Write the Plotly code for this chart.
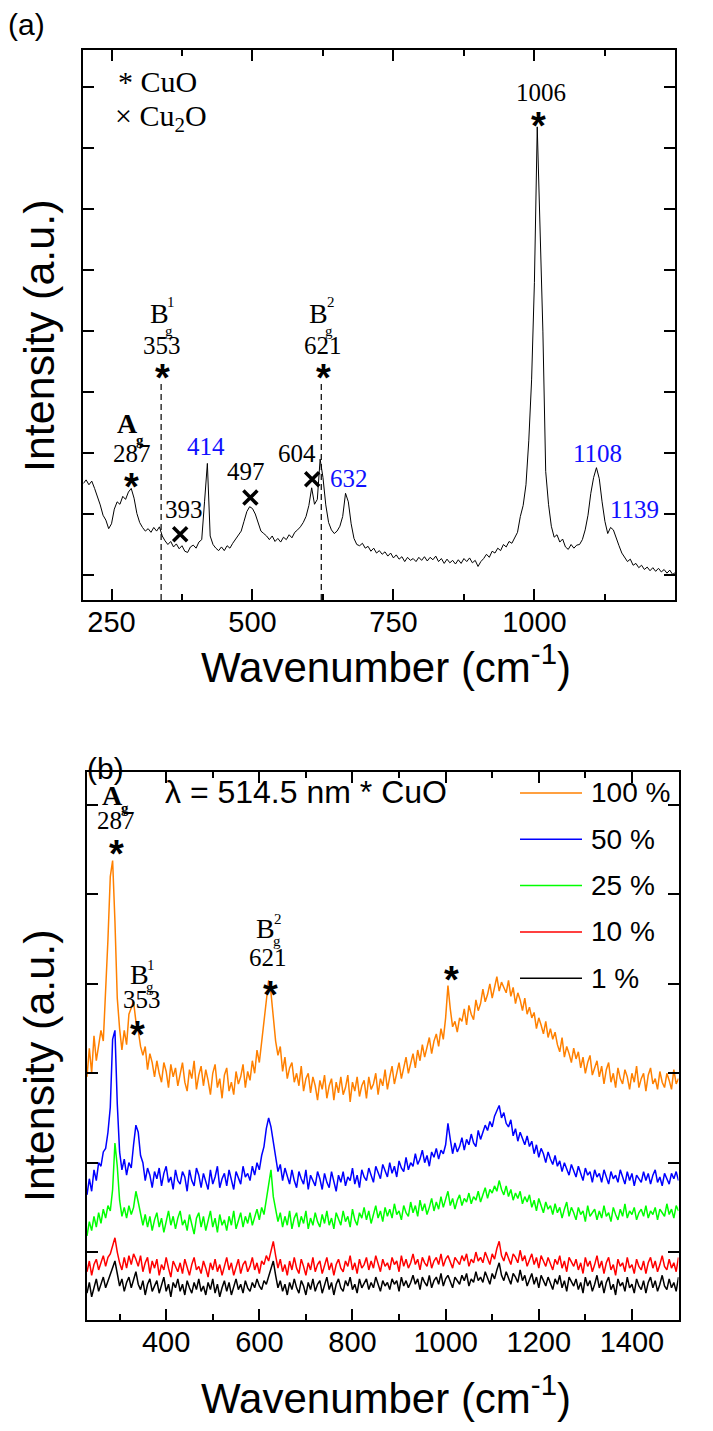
import plotly.graph_objects as go

# page has an 8 px body margin: figure is sized so it fits the 713x1431 window exactly
OFF = 8
FW, FH = 713 - 2 * OFF, 1431 - 2 * OFF


def PX(px):
    return (px - OFF) / FW


def PY(py):
    return 1 - (py - OFF) / FH


# ---------------- panel (a) : Raman spectrum, 5 cm-1 steps from 200 cm-1 ----------------
int_a = [
    15.0, 15.6, 14.8, 15.4, 14.2, 13.0, 11.5, 9.8, 9.0, 7.6,
    8.4, 10.8, 12.0, 11.6, 12.9, 12.4, 13.6, 14.2, 12.6, 10.1,
    8.6, 7.8, 7.2, 7.6, 7.0, 7.8, 7.2, 7.9, 6.4, 5.6,
    5.0, 5.5, 4.6, 5.1, 4.3, 4.8, 3.9, 3.7, 4.6, 4.9,
    4.4, 5.4, 5.8, 12.0, 18.3, 6.4, 5.0, 4.4, 4.0, 4.6,
    4.0, 4.8, 4.4, 5.2, 5.9, 6.6, 7.2, 8.8, 10.4, 11.2,
    10.9, 10.0, 8.4, 7.2, 6.8, 6.4, 5.8, 6.4, 5.5, 6.0,
    5.4, 6.2, 5.8, 6.6, 6.1, 7.0, 7.4, 7.9, 8.6, 9.6,
    11.4, 14.3, 11.6, 12.4, 19.0, 16.0, 11.5, 8.6, 7.4, 6.8,
    7.2, 8.0, 9.6, 13.4, 12.0, 8.4, 6.0, 5.0, 4.8, 5.2,
    4.4, 4.7, 3.9, 4.4, 3.6, 4.0, 3.4, 3.8, 3.1, 3.6,
    2.8, 3.3, 2.6, 3.0, 2.2, 2.9, 2.4, 2.7, 2.2, 2.9,
    2.4, 3.0, 2.3, 2.9, 2.5, 3.1, 2.2, 2.7, 1.9, 2.6,
    2.0, 2.4, 1.8, 2.5, 1.9, 2.7, 2.2, 2.8, 2.0, 2.4,
    1.4, 2.2, 2.7, 3.4, 2.9, 3.9, 3.6, 4.4, 4.0, 5.0,
    4.6, 5.5, 5.2, 6.0, 7.0, 9.6, 11.4, 14.8, 22.0, 32.0,
    48.0, 73.5, 56.0, 40.0, 17.0, 11.6, 8.0, 6.2, 6.6, 5.4,
    5.9, 4.6, 4.2, 5.0, 4.4, 4.9, 5.0, 5.8, 7.4, 9.8,
    13.4, 16.0, 17.6, 15.8, 12.0, 8.8, 6.8, 7.8, 7.4, 6.0,
    4.8, 3.6, 3.0, 2.2, 2.6, 1.6, 1.9, 1.2, 1.6, 0.9,
    1.3, 0.7, 1.2, 0.6, 1.1, 0.5, 0.9, 0.3, 0.8, 0.1,
    0.4,
]
wn_a = [200 + 5 * i for i in range(len(int_a))]

# ---------------- panel (b) : five laser powers, 5 cm-1 steps from 230 cm-1 ----------------
p100 = [
    196, 228, 200, 242, 214, 230, 248, 236, 290, 350,
    420, 438, 370, 284, 250, 226, 248, 232, 266, 274,
    280, 258, 248, 230, 220, 230, 204, 222, 212, 196,
    214, 200, 190, 212, 202, 184, 210, 196, 206, 186,
    200, 212, 190, 180, 204, 194, 214, 182, 198, 208,
    186, 204, 192, 176, 200, 210, 184, 194, 172, 198,
    206, 180, 190, 176, 202, 188, 196, 210, 184, 202,
    192, 214, 200, 226, 212, 236, 258, 284, 304, 290,
    262, 236, 220, 230, 202, 218, 194, 206, 212, 190,
    200, 186, 208, 180, 194, 200, 178, 196, 186, 170,
    192, 182, 198, 172, 186, 194, 170, 190, 178, 196,
    176, 184, 198, 168, 190, 180, 196, 174, 186, 192,
    172, 196, 182, 188, 200, 176, 194, 186, 204, 182,
    196, 208, 188, 200, 212, 194, 206, 218, 200, 212,
    222, 206, 226, 214, 232, 218, 228, 240, 222, 236,
    244, 230, 250, 238, 262, 298, 272, 252, 258, 246,
    262, 258, 272, 254, 276, 266, 260, 282, 270, 278,
    294, 280, 288, 300, 284, 296, 308, 292, 302, 296,
    290, 304, 286, 296, 278, 290, 282, 270, 284, 266,
    274, 262, 268, 250, 262, 254, 244, 258, 240, 250,
    238, 246, 232, 224, 240, 218, 230, 222, 212, 228,
    216, 224, 206, 218, 200, 212, 220, 198, 206, 214,
    196, 208, 188, 204, 212, 190, 200, 184, 206, 194,
    188, 204, 196, 182, 200, 190, 208, 184, 194, 200,
    180, 198, 206, 188, 194, 182, 202, 190, 184, 200,
    192, 182, 204, 188, 194,
]
p50 = [
    64, 82, 68, 92, 80, 100, 96, 112, 116, 134,
    162, 238, 248, 166, 112, 92, 104, 86, 100, 94,
    120, 142, 134, 108, 100, 80, 94, 86, 72, 90,
    82, 94, 74, 88, 96, 78, 84, 70, 92, 80,
    76, 90, 84, 68, 92, 80, 74, 94, 86, 72,
    88, 80, 70, 92, 76, 84, 96, 72, 82, 88,
    74, 92, 80, 70, 90, 84, 76, 96, 84, 88,
    80, 96, 86, 100, 92, 108, 118, 138, 150, 140,
    122, 106, 90, 98, 80, 94, 84, 76, 92, 80,
    72, 90, 82, 76, 92, 70, 86, 80, 74, 90,
    82, 70, 88, 78, 72, 90, 80, 68, 86, 78,
    90, 74, 84, 80, 94, 76, 86, 72, 92, 84,
    80, 94, 86, 78, 96, 88, 82, 98, 90, 84,
    100, 88, 96, 84, 102, 94, 90, 106, 92, 100,
    96, 110, 98, 104, 114, 100, 108, 96, 112, 106,
    116, 104, 114, 110, 120, 144, 126, 110, 122, 112,
    118, 128, 114, 126, 120, 132, 122, 118, 136, 126,
    134, 142, 136, 146, 140, 152, 158, 164, 150, 156,
    144, 140, 148, 130, 138, 124, 134, 126, 120, 130,
    118, 124, 110, 120, 106, 116, 110, 100, 112, 104,
    98, 108, 96, 102, 90, 100, 94, 86, 98, 90,
    84, 96, 88, 80, 94, 86, 90, 78, 92, 84,
    88, 78, 92, 84, 76, 90, 82, 86, 78, 92,
    84, 76, 90, 80, 88, 74, 86, 82, 78, 90,
    80, 88, 76, 86, 92, 78, 84, 74, 88, 82,
    76, 88, 82, 90, 80,
]
p25 = [
    18, 34, 24, 40, 28, 44, 32, 48, 38, 52,
    46, 70, 122, 96, 58, 40, 50, 38, 52, 42,
    50, 68, 56, 44, 30, 42, 28, 40, 24, 36,
    44, 28, 38, 22, 36, 46, 30, 40, 26, 38,
    46, 30, 36, 24, 42, 32, 20, 38, 44, 28,
    40, 24, 34, 46, 28, 38, 22, 42, 30, 36,
    24, 40, 30, 46, 26, 36, 44, 28, 40, 32,
    44, 30, 40, 48, 36, 50, 42, 58, 76, 92,
    62, 46, 34, 44, 28, 40, 30, 46, 26, 38,
    44, 28, 40, 32, 46, 26, 38, 30, 44, 34,
    28, 42, 32, 46, 30, 38, 26, 44, 36, 30,
    46, 34, 40, 28, 48, 36, 30, 44, 38, 50,
    36, 46, 32, 44, 52, 38, 46, 34, 50, 40,
    48, 38, 54, 42, 46, 36, 52, 44, 40, 56,
    44, 52, 40, 58, 46, 54, 42, 50, 60, 46,
    56, 48, 62, 50, 58, 68, 52, 60, 48, 58,
    64, 52, 60, 56, 66, 54, 62, 58, 68, 56,
    64, 72, 60, 70, 66, 74, 68, 80, 70, 64,
    74, 62, 70, 58, 66, 60, 68, 54, 62, 56,
    64, 50, 58, 46, 60, 52, 44, 56, 48, 52,
    42, 54, 44, 50, 38, 48, 56, 40, 50, 44,
    36, 50, 42, 46, 34, 52, 40, 44, 48, 36,
    46, 38, 52, 40, 44, 34, 50, 42, 36, 48,
    40, 54, 38, 46, 42, 50, 36, 44, 48, 40,
    52, 38, 46, 42, 50, 36, 48, 44, 40, 54,
    42, 48, 38, 52, 46,
]
p10 = [
    -22, -10, -26, -14, -8, -20, -12, -4, -16, -6,
    -2, 6, 16, 0, -12, -20, -6, -18, -4, -14,
    -2, -8, -16, -4, -22, -12, -6, -24, -10, -18,
    -8, -26, -14, -20, -6, -18, -28, -10, -16, -22,
    -12, -24, -8, -18, -26, -14, -6, -20, -16, -24,
    -10, -18, -28, -12, -20, -8, -22, -14, -26, -16,
    -6, -20, -12, -26, -18, -8, -24, -14, -10, -22,
    -16, -6, -20, -12, -24, -10, -14, -4, -10, 2,
    12, -4, -18, -8, -22, -14, -26, -10, -20, -6,
    -18, -24, -8, -16, -26, -12, -20, -6, -22, -14,
    -10, -24, -16, -6, -20, -12, -26, -14, -8, -18,
    -22, -10, -16, -4, -20, -12, -24, -8, -18, -14,
    -6, -20, -10, -18, -4, -14, -22, -8, -16, -12,
    -20, -6, -14, -10, -22, -4, -16, -8, -18, -12,
    -2, -14, -8, -20, -6, -12, -16, -4, -18, -10,
    -6, -14, -2, -16, -8, -4, -12, -18, -6, -10,
    -14, -4, -10, -2, -16, -8, -12, 0, -10, -6,
    -12, 0, -6, -14, -2, -8, 4, 12, -4, -10,
    0, -8, -14, -2, -6, -12, 2, -10, -4, -16,
    -8, -2, -14, -6, -18, -4, -10, -16, -6, -12,
    -20, -8, -14, -4, -18, -10, -22, -6, -12, -16,
    -8, -20, -12, -24, -6, -16, -10, -22, -14, -4,
    -18, -10, -24, -12, -6, -20, -14, -26, -8, -16,
    -12, -22, -6, -18, -14, -24, -8, -16, -20, -10,
    -24, -12, -6, -18, -10, -22, -14, -4, -16, -20,
    -8, -18, -12, -22, -6,
]
p1 = [
    -46, -34, -50, -38, -30, -44, -36, -28, -40, -32,
    -26, -16, -10, -24, -38, -30, -44, -34, -28, -40,
    -30, -22, -36, -42, -32, -48, -36, -30, -44, -38,
    -32, -46, -38, -28, -44, -36, -50, -34, -40, -30,
    -44, -36, -48, -32, -40, -46, -34, -42, -30, -44,
    -38, -48, -34, -42, -30, -46, -36, -50, -40, -32,
    -44, -34, -48, -38, -30, -42, -36, -46, -32, -40,
    -44, -34, -40, -30, -38, -42, -32, -36, -28, -20,
    -10, -26, -40, -32, -44, -36, -48, -34, -42, -30,
    -40, -46, -32, -38, -48, -34, -42, -30, -44, -36,
    -32, -46, -38, -28, -42, -34, -48, -36, -30, -40,
    -44, -32, -38, -28, -42, -36, -46, -30, -40, -34,
    -30, -42, -34, -40, -28, -36, -44, -32, -38, -34,
    -42, -30, -36, -32, -44, -28, -38, -32, -40, -34,
    -26, -36, -30, -42, -28, -34, -38, -26, -40, -32,
    -28, -36, -24, -38, -30, -26, -34, -40, -28, -32,
    -36, -26, -32, -24, -38, -30, -34, -22, -32, -28,
    -34, -22, -28, -36, -24, -30, -20, -12, -26, -32,
    -22, -30, -36, -24, -28, -34, -20, -32, -26, -38,
    -30, -24, -36, -28, -40, -26, -32, -38, -28, -34,
    -42, -30, -36, -26, -40, -32, -44, -28, -34, -38,
    -30, -42, -34, -46, -28, -38, -32, -44, -36, -26,
    -40, -32, -46, -34, -28, -42, -36, -48, -30, -38,
    -34, -44, -28, -40, -36, -46, -30, -38, -42, -32,
    -46, -34, -28, -40, -32, -44, -36, -26, -38, -42,
    -30, -40, -34, -44, -28,
]
series_b = [("1 %", p1, "#000000"), ("10 %", p10, "#FF0000"), ("25 %", p25, "#00FF00"),
            ("50 %", p50, "#0000FF"), ("100 %", p100, "#FF8000")]
legend_order = ["100 %", "50 %", "25 %", "10 %", "1 %"]

# ---------------- annotation content ----------------
a_numbers = [  # (text, wavenumber, intensity, colour)
    ("287", 286.5, 20.0, "black"), ("353", 339.3, 37.7, "black"), ("621", 625.4, 37.7, "black"),
    ("393", 377.7, 10.7, "black"), ("497", 488.6, 16.9, "black"), ("604", 579.2, 20.0, "black"),
    ("1006", 1011.6, 79.2, "black"),
    ("414", 418.0, 21.0, "#1010FF"), ("632", 671.0, 15.9, "#1010FF"),
    ("1108", 1112.4, 20.0, "#1010FF"), ("1139", 1177.4, 10.8, "#1010FF"),
]
a_star_x = [286.0, 341.0, 626.5, 1008.0]
a_star_y = [16.1, 34.0, 34.0, 75.2]
a_cross_x = [371.8, 496.3, 605.9]
a_cross_y = [6.7, 12.7, 15.7]
a_dash_x = [338, 622]
a_dash_top = 32.0

b_numbers = [("287", 292.3, 483), ("353", 348.0, 282), ("621", 618.7, 329)]
b_star_x = [292.3, 337.4, 623.0, 1011.6]
b_star_y = [457, 254, 299, 315]

fig = go.Figure()

fig.add_trace(go.Scatter(x=wn_a, y=int_a, mode="lines", line=dict(color="black", width=1),
                         xaxis="x", yaxis="y", showlegend=False, hoverinfo="skip"))
fig.add_trace(go.Scatter(x=a_cross_x, y=a_cross_y, mode="markers",
                         marker=dict(symbol="x-thin-open", size=14, color="black",
                                     line=dict(width=3.5, color="black")),
                         xaxis="x", yaxis="y", showlegend=False))

for name, vals, col in series_b:
    fig.add_trace(go.Scatter(x=[230 + 5 * i for i in range(len(vals))], y=vals, mode="lines",
                             line=dict(color=col, width=1.5), name=name,
                             xaxis="x2", yaxis="y2", showlegend=False))

SERIF = "Liberation Serif"
SANS = "Liberation Sans"

ann = []


def A(**k):
    k.setdefault("showarrow", False)
    k.setdefault("xanchor", "center")
    k.setdefault("yanchor", "middle")
    ann.append(k)


# panel (a) texts
for t, x, y, c in a_numbers:
    A(text=t, x=x, y=y, xref="x", yref="y", font=dict(family=SERIF, size=25, color=c))
for x, y in zip(a_star_x, a_star_y):
    A(text="<b>*</b>", x=x, y=y, xref="x", yref="y", yshift=-10, font=dict(family=SANS, size=38, color="black"))
A(text="<b>A</b>", x=279, y=24.9, xref="x", yref="y", font=dict(family=SERIF, size=28, color="black"))
A(text="<b>g</b>", x=300.8, y=22.2, xref="x", yref="y", font=dict(family=SERIF, size=15, color="black"))
for bx, sup in ((334.5, "1"), (617.6, "2")):
    A(text="B", x=bx, y=42.9, xref="x", yref="y", font=dict(family=SERIF, size=28, color="black"))
    A(text=sup, x=bx + 20.8, y=44.8, xref="x", yref="y", font=dict(family=SERIF, size=15, color="black"))
    A(text="g", x=bx + 18.3, y=40.0, xref="x", yref="y", font=dict(family=SERIF, size=15, color="black"))
A(text="* CuO", x=PX(116), y=PY(82), xref="paper", yref="paper", xanchor="left",
  font=dict(family=SERIF, size=30, color="black"))
A(text="× Cu<sub>2</sub>O", x=PX(113), y=PY(118), xref="paper", yref="paper", xanchor="left",
  font=dict(family=SERIF, size=30, color="black"))

# panel (b) texts
for t, x, y in b_numbers:
    A(text=t, x=x, y=y, xref="x2", yref="y2", font=dict(family=SERIF, size=25, color="black"))
for x, y in zip(b_star_x, b_star_y):
    A(text="<b>*</b>", x=x, y=y, xref="x2", yref="y2", yshift=-10, font=dict(family=SANS, size=38, color="black"))
A(text="<b>A</b>", x=283.7, y=511, xref="x2", yref="y2", font=dict(family=SERIF, size=28, color="black"))
A(text="<b>g</b>", x=311.6, y=497, xref="x2", yref="y2", font=dict(family=SERIF, size=15, color="black"))
for bx, by, sup in ((341.7, 310, "1"), (614.0, 362, "2")):
    A(text="B", x=bx, y=by, xref="x2", yref="y2", font=dict(family=SERIF, size=28, color="black"))
    A(text=sup, x=bx + 26, y=by + 11, xref="x2", yref="y2", font=dict(family=SERIF, size=15, color="black"))
    A(text="g", x=bx + 24, y=by - 14, xref="x2", yref="y2", font=dict(family=SERIF, size=15, color="black"))
A(text="λ = 514.5 nm * CuO", x=PX(163), y=PY(792), xref="paper", yref="paper", xanchor="left",
  font=dict(family=SANS, size=32, color="black"))

# legend (drawn by hand, like the original)
shapes = []
cols = {n: c for n, _, c in series_b}
for k, n in enumerate(legend_order):
    yp = PY(793 + 46.3 * k)
    shapes.append(dict(type="line", xref="paper", yref="paper", x0=PX(520), x1=PX(582), y0=yp, y1=yp,
                       line=dict(color=cols[n], width=1.5)))
    A(text=n, x=PX(589), y=yp, xref="paper", yref="paper", xanchor="left",
      font=dict(family=SANS, size=28, color="black"))

# dashed guide lines in (a)
for dx in a_dash_x:
    shapes.append(dict(type="line", xref="x", yref="y", x0=dx, x1=dx, y0=-4.1, y1=a_dash_top,
                       line=dict(color="black", width=1.2, dash="6px,4px")))

# panel labels and axis titles
A(text="(a)", x=PX(26), y=PY(24), xref="paper", yref="paper", font=dict(family=SANS, size=30, color="black"))
A(text="(b)", x=PX(105), y=PY(768), xref="paper", yref="paper", font=dict(family=SANS, size=30, color="black"))
for yc in (336, 1066):
    A(text="Intensity (a.u.)", x=PX(39), y=PY(yc), xref="paper", yref="paper", textangle=-90,
      font=dict(family=SANS, size=43, color="black"))
for yc in (664, 1395):
    A(text="Wavenumber (cm<sup>-1</sup>)", x=PX(386), y=PY(yc), xref="paper", yref="paper",
      font=dict(family=SANS, size=42, color="black"))

axis_common = dict(showline=True, linecolor="black", linewidth=2, mirror="ticks", ticks="inside",
                   ticklen=11, tickwidth=2, tickcolor="black", showgrid=False, zeroline=False)

fig.update_layout(
    width=FW, height=FH, margin=dict(l=0, r=0, t=0, b=0),
    paper_bgcolor="white", plot_bgcolor="white", showlegend=False,
    annotations=ann, shapes=shapes,
    xaxis=dict(axis_common, domain=[PX(83.3), PX(675.4)], anchor="y", range=[200, 1250],
               tickmode="array", tickvals=[250, 500, 750, 1000, 1250],
               tickfont=dict(family=SANS, size=29, color="black"), ticklabelstandoff=-5,
               minor=dict(tickvals=[375, 625, 875, 1125], ticklen=6, tickwidth=2, tickcolor="black", ticks="inside")),
    yaxis=dict(axis_common, domain=[PY(600), PY(50)], anchor="x", range=[-4.1, 86.1],
               tickmode="array", tickvals=[0, 10, 20, 30, 40, 50, 60, 70, 80], showticklabels=False),
    xaxis2=dict(axis_common, domain=[PX(87), PX(678.5)], anchor="y2", range=[230, 1500],
                tickmode="array", tickvals=[400, 600, 800, 1000, 1200, 1400],
                tickfont=dict(family=SANS, size=29, color="black"), ticklabelstandoff=-5,
                minor=dict(tickvals=[300, 500, 700, 900, 1100, 1300, 1500], ticklen=6, tickwidth=2,
                           tickcolor="black", ticks="inside")),
    yaxis2=dict(axis_common, domain=[PY(1320), PY(772)], anchor="x2", range=[-76, 537],
                tickmode="array", tickvals=[0, 100, 200, 300, 400, 500], showticklabels=False),
)

fig.write_html("out.html")
